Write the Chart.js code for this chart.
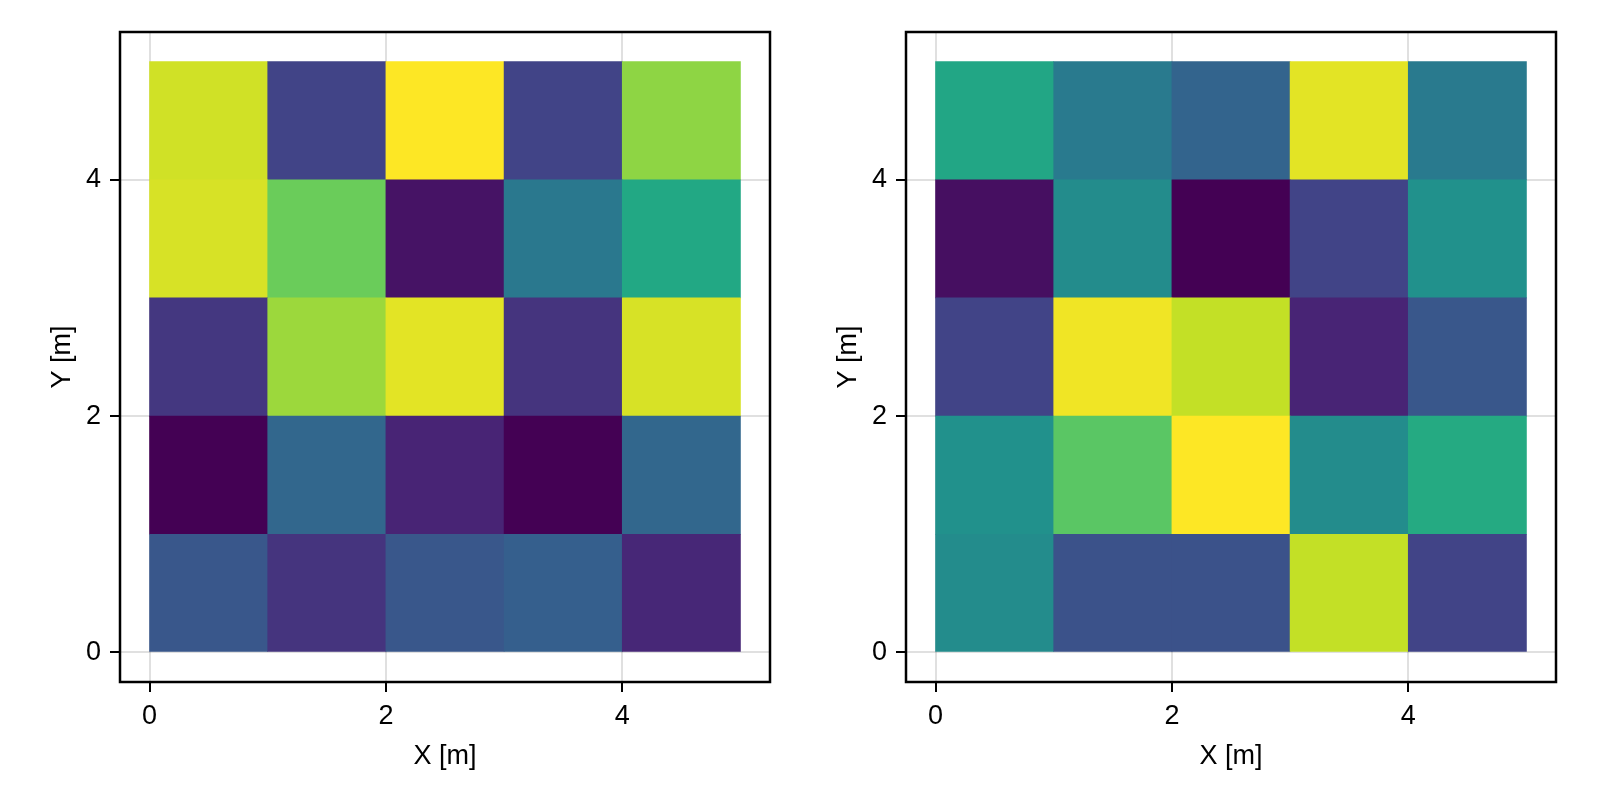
<!DOCTYPE html>
<html>
<head>
<meta charset="utf-8">
<script src="https://cdn.jsdelivr.net/npm/chart.js@4.4.1/dist/chart.umd.min.js"></script>
<style>
  html, body { margin: 0; padding: 0; background: #fff; }
  #wrap { position: relative; width: 1600px; height: 800px; }
  canvas { position: absolute; top: 0; }
</style>
</head>
<body>
<div id="wrap">
  <canvas id="left" width="800" height="800" style="left:0"></canvas>
  <canvas id="right" width="800" height="800" style="left:800px"></canvas>
</div>
<script>
// cell edges along each axis
const xEdges = [0, 1, 2, 3, 4, 5];
const yEdges = [0, 1, 2, 3, 4, 5];
const xTicks = [0, 2, 4];
const yTicks = [0, 2, 4];
const xLabel = "X [m]";
const yLabel = "Y [m]";

// rows go from y=0 upwards, columns from x=0 to the right
const leftValues = [
  [0.27, 0.15, 0.27, 0.30, 0.11],
  [0.00, 0.33, 0.10, 0.00, 0.33],
  [0.16, 0.85, 0.96, 0.15, 0.94],
  [0.94, 0.77, 0.05, 0.40, 0.60],
  [0.93, 0.20, 1.00, 0.20, 0.83]
];
const rightValues = [
  [0.48, 0.25, 0.25, 0.91, 0.20],
  [0.50, 0.74, 1.00, 0.48, 0.61],
  [0.20, 0.98, 0.91, 0.10, 0.27],
  [0.04, 0.48, 0.00, 0.20, 0.50],
  [0.59, 0.41, 0.32, 0.96, 0.41]
];

// viridis colormap stops
const viridisStops = ["#440154", "#482475", "#414487", "#355f8d", "#2a788e",
  "#21918c", "#22a884", "#44bf70", "#7ad151", "#bddf26", "#fde725"];

function hexToRgb(h) {
  return [1, 3, 5].map(i => parseInt(h.slice(i, i + 2), 16));
}

function viridis(t) {
  t = Math.min(1, Math.max(0, t));
  const p = t * (viridisStops.length - 1);
  const i = Math.min(Math.floor(p), viridisStops.length - 2);
  const f = p - i;
  const a = hexToRgb(viridisStops[i]), b = hexToRgb(viridisStops[i + 1]);
  const c = a.map((v, k) => Math.round(v + (b[k] - v) * f));
  return `rgb(${c[0]},${c[1]},${c[2]})`;
}

const font = { family: "'Liberation Sans', Arial, sans-serif", size: 27 };

const framePlugin = {
  id: "frame",
  afterDraw(chart) {
    const { ctx, chartArea: a } = chart;
    ctx.save();
    ctx.strokeStyle = "#000";
    ctx.lineWidth = 2.5;
    ctx.strokeRect(a.left, a.top, a.right - a.left, a.bottom - a.top);
    ctx.restore();
  }
};

function makeHeatmap(id, values, yAxisWidth, rightPad, yTitlePad) {
  const flat = values.flat();
  const lo = Math.min(...flat), hi = Math.max(...flat);
  const datasets = values.map((row, r) => ({
    data: row.map((v, c) => ({ x: (xEdges[c] + xEdges[c + 1]) / 2, y: [yEdges[r], yEdges[r + 1]] })),
    backgroundColor: row.map(v => viridis((v - lo) / (hi - lo))),
    borderWidth: 0,
    grouped: false,
    categoryPercentage: 1,
    barPercentage: 1
  }));

  const grid = {
    color: "rgba(0,0,0,0.12)",
    lineWidth: 2,
    tickColor: "#000",
    tickWidth: 2,
    tickLength: 10,
    offset: false
  };

  return new Chart(document.getElementById(id), {
    type: "bar",
    data: { datasets },
    options: {
      responsive: false,
      animation: false,
      devicePixelRatio: 1,
      layout: { padding: { top: 32, right: rightPad, left: 0, bottom: 0 } },
      plugins: { legend: { display: false }, tooltip: { enabled: false } },
      scales: {
        x: {
          type: "linear",
          offset: false,
          min: -0.25,
          max: 5.25,
          afterBuildTicks: s => { s.ticks = xTicks.map(v => ({ value: v })); },
          afterFit: s => { s.height = 118; },
          grid,
          border: { display: false },
          ticks: { font, color: "#000", padding: 8, maxRotation: 0 },
          title: { display: true, text: xLabel, font, color: "#000", padding: { top: 0, bottom: 27 } }
        },
        y: {
          type: "linear",
          min: -0.25,
          max: 5.25,
          afterBuildTicks: s => { s.ticks = yTicks.map(v => ({ value: v })); },
          afterFit: s => { s.width = yAxisWidth; },
          grid,
          border: { display: false },
          ticks: { font, color: "#000", padding: 9 },
          title: { display: true, text: yLabel, font, color: "#000", padding: { top: yTitlePad, bottom: 0 } }
        }
      }
    },
    plugins: [framePlugin]
  });
}

makeHeatmap("left", leftValues, 120, 30, 46);
makeHeatmap("right", rightValues, 106, 44, 32);
</script>
</body>
</html>
